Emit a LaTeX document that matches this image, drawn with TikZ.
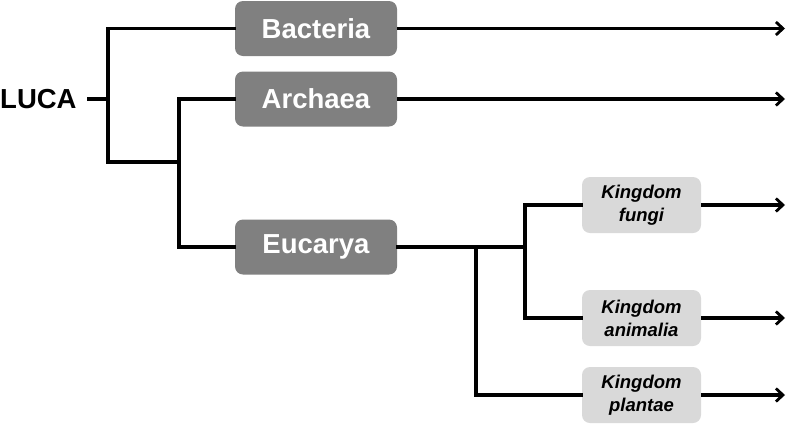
\documentclass[tikz,border=0pt]{standalone}
\usepackage{fontspec}
\setmainfont{Liberation Sans}
\usetikzlibrary{arrows.meta}
\definecolor{darkbox}{RGB}{128,128,128}
\definecolor{lightbox}{RGB}{217,217,217}
\begin{document}
\begin{tikzpicture}[x=1pt,y=-1pt,
  domainbox/.style={fill=darkbox,rounded corners=8pt,minimum width=162pt,minimum height=55pt,inner sep=0pt,text=white,font=\fontsize{27.5}{32}\selectfont\bfseries},
  kingdombox/.style={fill=lightbox,rounded corners=8pt,minimum width=119pt,minimum height=56pt,inner sep=0pt,align=center,text=black,font=\fontsize{18.5}{23}\selectfont\bfseries\itshape},
  branch/.style={line width=3.2pt,line join=miter,line cap=rect},
  arr/.style={line width=3.2pt,-{Straight Barb[length=7pt,width=13pt,line width=2.8pt]}}]
\useasboundingbox (0,0) rectangle (787,424);
\node[anchor=west,inner sep=0pt,font=\fontsize{27.5}{32}\selectfont\bfseries] (luca) at (0,99) {LUCA};
\node[domainbox] (bact) at (316,28.5) {Bacteria};
\node[domainbox] (arch) at (316,99) {Archaea};
\node[domainbox] (euc) at (316,247) {Eucarya};
\node[kingdombox] (fung) at (641.5,205) {Kingdom\\fungi};
\node[kingdombox] (anim) at (641.5,318) {Kingdom\\animalia};
\node[kingdombox] (plant) at (641.5,395) {Kingdom\\plantae};
\coordinate (lstart) at (87,99);
\coordinate (l) at (108,99);
\coordinate (a) at (108,28.5);
\coordinate (b) at (108,162);
\coordinate (c) at (179,162);
\coordinate (d) at (179,99);
\coordinate (e) at (179,247);
\coordinate (f) at (525,247);
\coordinate (g) at (476,247);
\coordinate (h) at (476,395);
\coordinate (k1) at (525,205);
\coordinate (k2) at (525,318);
\coordinate (o1) at (785,28.5);
\coordinate (o2) at (785,99);
\coordinate (o3) at (785,205);
\coordinate (o4) at (785,318);
\coordinate (o5) at (785,395);
\draw[line width=3.2pt] (lstart) -- (l);
\draw[branch] (bact.west) -- (a) -- (b) -- (c);
\draw[branch] (arch.west) -- (d) -- (e) -- (euc.west);
\draw[branch] (euc.east) -- (f);
\draw[branch] (g) -- (h) -- (plant.west);
\draw[branch] (fung.west) -- (k1) -- (k2) -- (anim.west);
\draw[arr] (bact.east) -- (o1);
\draw[arr] (arch.east) -- (o2);
\draw[arr] (fung.east) -- (o3);
\draw[arr] (anim.east) -- (o4);
\draw[arr] (plant.east) -- (o5);
\end{tikzpicture}
\end{document}
